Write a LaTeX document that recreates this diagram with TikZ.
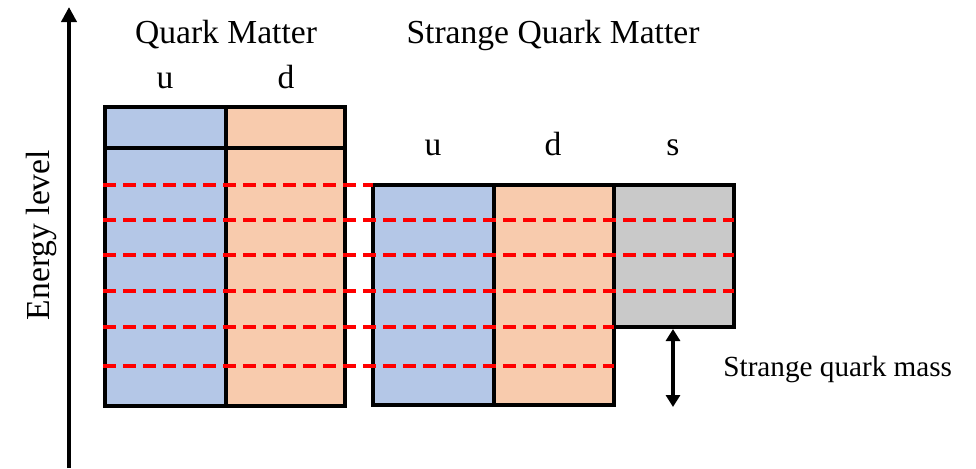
\documentclass[tikz,border=0pt]{standalone}
\usepackage{fontspec}
\setmainfont{Liberation Serif}
\usepackage{xcolor}
\usetikzlibrary{arrows.meta, positioning}

\definecolor{ublue}{HTML}{B4C7E7}
\definecolor{dorange}{HTML}{F8CBAD}
\definecolor{sgray}{HTML}{C9C9C9}

\begin{document}
\begin{tikzpicture}[x=0.5pt, y=-0.5pt,
    >={Triangle[length=7.5pt, width=7.5pt]},
    cell/.style={draw=black, line width=2pt},
    level/.style={red, line width=1.9pt, dash pattern=on 6.5pt off 3.5pt},
    big/.style={font=\fontsize{16.8}{20}\selectfont, inner sep=0pt},
    small/.style={font=\fontsize{14.6}{18}\selectfont, inner sep=0pt}]
    \useasboundingbox (0,0) rectangle (976,468);

    % 1. Energy axis
    \coordinate (axisbot) at (69,468);
    \coordinate (axistop) at (69,7);
    \draw[->, line width=2pt] (axisbot) -- (axistop);
    \node[big, rotate=90, anchor=base] (elevel) at (49,235) {Energy level};

    % 2. Quark matter (u, d)
    \fill[ublue] (105,107) rectangle (226,406);
    \fill[dorange] (226,107) rectangle (345,406);
    \draw[cell] (105,107) rectangle (345,406);
    \draw[cell] (226,107) -- (226,406);
    \draw[cell] (105,148) -- (345,148);
    \node[big, anchor=base] (qm) at (226,43) {Quark Matter};
    \node[big, anchor=base] (qmu) at (165,88) {u};
    \node[big, anchor=base] (qmd) at (286,88) {d};

    % 3. Strange quark matter (u, d, s)
    \fill[ublue] (373,185) rectangle (494,405);
    \fill[dorange] (494,185) rectangle (614,405);
    \fill[sgray] (614,185) rectangle (734,327);
    \draw[cell] (373,185) -- (734,185) -- (734,327) -- (614,327)
        -- (614,405) -- (373,405) -- cycle;
    \draw[cell] (494,185) -- (494,405);
    \draw[cell] (614,185) -- (614,327);
    \node[big, anchor=base] (sqm) at (553,43) {Strange Quark Matter};
    \foreach \q/\x in {u/433, d/553, s/673} {
        \node[big, anchor=base] (sqm\q) at (\x,155) {\q};
    }

    % 4. Fermi levels
    \draw[level] (103,185) -- (373,185);
    \foreach \y in {220, 255, 291} {
        \draw[level] (103,\y) -- (734,\y);
    }
    \foreach \y in {327, 366} {
        \draw[level] (103,\y) -- (614,\y);
    }

    % 5. Strange quark mass
    \coordinate (mtop) at (673,329);
    \coordinate (mbot) at (673,407);
    \draw[{Triangle[length=6pt, width=7pt]}-{Triangle[length=6pt, width=7pt]},
        line width=1.75pt] (mtop) -- (mbot);
    \node[small, anchor=base west] (mass) at (723,376) {Strange quark mass};
\end{tikzpicture}
\end{document}
